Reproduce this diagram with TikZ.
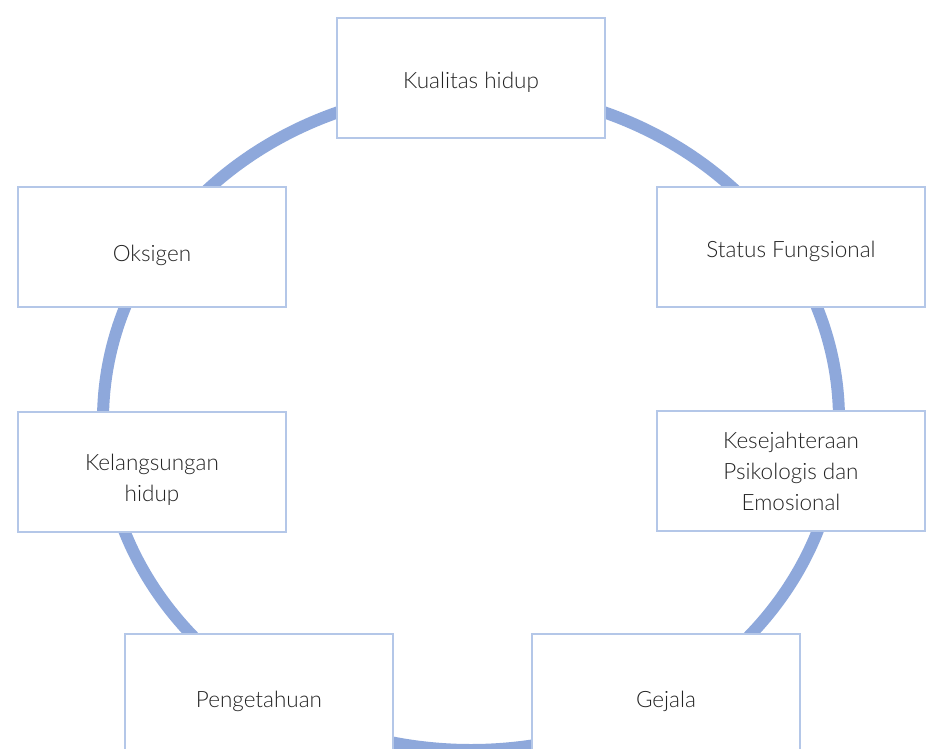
\documentclass[tikz,border=0pt]{standalone}
\usepackage{fontspec}
\setmainfont{Lato}[UprightFont=* Light]
\usepackage{xcolor}
\newcommand{\lowtext}[2]{\raisebox{-#1pt}[\height][\depth]{#2}}

\begin{document}
\begin{tikzpicture}[x=1pt,y=-1pt]
% Define colours of the cycle
\definecolor{ring}{RGB}{142,168,219}
\definecolor{edge}{RGB}{180,199,232}
\definecolor{ink}{RGB}{35,35,35}
\tikzset{factor/.style={draw=edge,line width=2pt,fill=white,text=ink,
  minimum width=268,minimum height=120,align=center,inner sep=0pt,
  font=\fontsize{22.5}{31}\selectfont}}

\useasboundingbox (0,0) rectangle (931,749);
\clip (0,0) rectangle (931,749);

% Draw the ring behind the boxes
\draw[ring,line width=12pt] (471,420) ellipse [x radius=368,y radius=330];

% Draw the factor boxes
\node[factor] (kualitas) at (471,78) {\lowtext{4}{Kualitas hidup}};
\node[factor] (oksigen) at (152,247) {\lowtext{8}{Oksigen}};
\node[factor] (status) at (791,247) {\lowtext{4}{Status Fungsional}};
\node[factor] (kelangsungan) at (152,472) {\lowtext{8}{Kelangsungan}\\\lowtext{8}{hidup}};
\node[factor] (kesejahteraan) at (791,471) {Kesejahteraan\\Psikologis dan\\Emosional};
\node[factor,minimum height=130] (pengetahuan) at (259,699) {\lowtext{2}{Pengetahuan}};
\node[factor,minimum height=130] (gejala) at (666,699) {\lowtext{2}{Gejala}};
\end{tikzpicture}
\end{document}
